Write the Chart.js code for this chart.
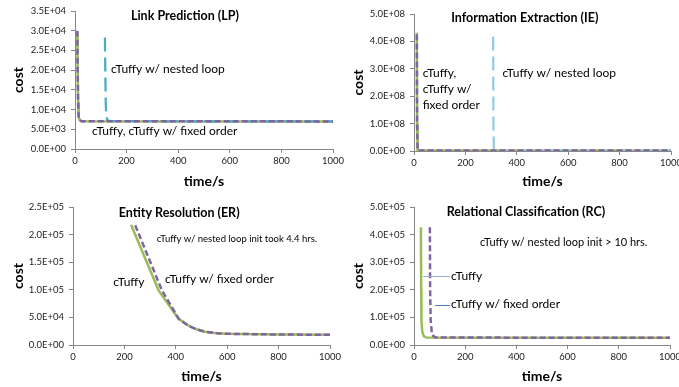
<!DOCTYPE html>
<html>
<head>
<meta charset="utf-8">
<script src="https://cdn.jsdelivr.net/npm/chart.js@4"></script>
<style>
  html, body { margin: 0; padding: 0; background: #fff; overflow: hidden; }
  body { width: 679px; height: 387px; position: relative; }
  canvas { position: absolute; }
</style>
</head>
<body>
<canvas id="lp" width="350" height="192" style="left:0;top:0"></canvas>
<canvas id="ie" width="350" height="192" style="left:340px;top:0"></canvas>
<canvas id="er" width="350" height="192" style="left:0;top:195px"></canvas>
<canvas id="rc" width="350" height="192" style="left:340px;top:195px"></canvas>
<script>
// Link Prediction
const lpTuffyX = [9, 10, 12, 14, 18, 25, 1000];
const lpTuffyY = [29500, 22000, 12000, 8200, 7300, 7050, 7000];
const lpFixedX = [9, 10, 12, 14, 18, 25, 1000];
const lpFixedY = [30000, 22000, 12000, 8200, 7300, 7050, 7000];
const lpNestedX = [116, 117, 119, 121, 125, 135, 1000];
const lpNestedY = [28300, 22000, 12000, 8500, 7400, 7050, 7000];

// Information Extraction
const ieTuffyX = [11, 12, 14, 1000];
const ieTuffyY = [432e6, 100e6, 1.5e6, 1.5e6];
const ieFixedX = [11, 12, 14, 1000];
const ieFixedY = [425e6, 100e6, 1.5e6, 1.5e6];
const ieNestedX = [308, 309, 311, 1000];
const ieNestedY = [418e6, 100e6, 1.5e6, 1.5e6];

// Entity Resolution
const erTuffyX = [226, 333, 410, 450, 480, 514, 560, 600, 800, 1000];
const erTuffyY = [218000, 99000, 48000, 35000, 28500, 24000, 21500, 20300, 19000, 18500];
const erFixedX = [242, 346, 412, 450, 480, 514, 560, 600, 800, 1000];
const erFixedY = [217000, 99000, 47000, 34500, 28500, 24000, 21500, 20300, 19000, 18500];

// Relational Classification
const rcTuffyX = [27, 28, 29, 32, 38, 48, 1000];
const rcTuffyY = [427000, 200000, 90000, 50000, 32000, 27000, 26000];
const rcFixedX = [62, 63, 65, 69, 75, 85, 1000];
const rcFixedY = [427000, 200000, 90000, 50000, 33000, 27000, 26000];

const timeTicks = [0, 200, 400, 600, 800, 1000];

const colors = {
  tuffy: '#9BBB59',
  fixed: '#8064A2',
  nested: '#4BACC6',
  nestedLight: '#93CDDD',
  axis: '#868686',
};

const zip = (xs, ys) => xs.map((x, i) => ({ x: x, y: ys[i] }));

function sci(v) {
  if (v === 0) return '0.0E+00';
  const e = Math.floor(Math.log10(Math.abs(v)) + 1e-9);
  const m = v / Math.pow(10, e);
  return m.toFixed(1) + 'E' + (e < 0 ? '-' : '+') + String(Math.abs(e)).padStart(2, '0');
}

function line(label, xs, ys, color, dash, width) {
  return {
    label: label,
    data: zip(xs, ys),
    borderColor: color,
    borderWidth: width || 2.5,
    borderDash: dash || [],
    pointRadius: 0,
    tension: 0,
    fill: false,
  };
}

// texts and leader lines placed in data coordinates
function notesPlugin(notes) {
  return {
    id: 'notes',
    afterDatasetsDraw(chart) {
      const ctx = chart.ctx;
      const sx = chart.scales.x, sy = chart.scales.y;
      ctx.save();
      notes.forEach(n => {
        if (n.line) {
          ctx.strokeStyle = n.color;
          ctx.lineWidth = 1;
          ctx.beginPath();
          ctx.moveTo(sx.getPixelForValue(n.line[0]), Math.round(sy.getPixelForValue(n.y)) + 0.5);
          ctx.lineTo(sx.getPixelForValue(n.line[1]), Math.round(sy.getPixelForValue(n.y)) + 0.5);
          ctx.stroke();
          return;
        }
        ctx.font = (n.bold ? 'bold ' : '') + n.size + 'px Lato';
        ctx.fillStyle = '#000';
        ctx.textAlign = n.align || 'left';
        ctx.textBaseline = 'middle';
        const lines = [].concat(n.text);
        lines.forEach((t, i) => {
          ctx.fillText(t, sx.getPixelForValue(n.x), sy.getPixelForValue(n.y) + i * 16);
        });
      });
      ctx.restore();
    },
  };
}

function makeChart(id, datasets, yMax, yStep, pad, notes) {
  const fixX = pad.xh, fixY = pad.yw;
  return new Chart(document.getElementById(id), {
    type: 'line',
    data: { datasets: datasets },
    options: {
      responsive: false,
      animation: false,
      layout: { padding: { top: pad.top, right: pad.right, left: 0, bottom: 0 } },
      plugins: { legend: { display: false }, tooltip: { enabled: false } },
      scales: {
        x: {
          type: 'linear',
          min: 0,
          max: 1000,
          afterBuildTicks: s => { s.ticks = timeTicks.map(v => ({ value: v })); },
          afterFit: s => { s.height = fixX; },
          grid: { drawOnChartArea: false, tickLength: 4, color: colors.axis },
          border: { color: colors.axis },
          ticks: {
            color: '#222',
            font: { family: 'Lato', size: 9.5 },
            padding: 2,
            maxRotation: 0,
            callback: v => String(v),
          },
          title: {
            display: true,
            text: 'time/s',
            color: '#000',
            font: { family: 'Lato', size: 14, weight: 'bold' },
            padding: { top: 0, bottom: 2 },
          },
        },
        y: {
          min: 0,
          max: yMax,
          ticks: {
            stepSize: yStep,
            color: '#222',
            font: { family: 'Lato', size: 9.5 },
            padding: 5,
            callback: v => sci(v),
          },
          afterFit: s => { s.width = fixY; },
          grid: { drawOnChartArea: false, tickLength: 4, color: colors.axis },
          border: { color: colors.axis },
          title: {
            display: true,
            text: 'cost',
            color: '#000',
            font: { family: 'Lato', size: 14, weight: 'bold' },
            padding: { top: 10, bottom: 0 },
          },
        },
      },
    },
    plugins: [notesPlugin(notes)],
  });
}

makeChart('lp', [
  line('cTuffy w/ fixed order', lpFixedX, lpFixedY, colors.fixed, [6, 3]),
  line('cTuffy w/ nested loop', lpNestedX, lpNestedY, colors.nested, [14, 6], 2.25),
  line('cTuffy', lpTuffyX, lpTuffyY, colors.tuffy),
], 35000, 5000, { top: 11, right: 17, xh: 43, yw: 75 }, [
  { text: 'Link Prediction (LP)', x: 426, y: 33700, size: 12.5, bold: true, align: 'center' },
  { text: 'cTuffy w/ nested loop', x: 140, y: 20300, size: 12 },
  { text: 'cTuffy, cTuffy w/ fixed order', x: 66, y: 4600, size: 12 },
]);

makeChart('ie', [
  line('cTuffy w/ fixed order', ieFixedX, ieFixedY, colors.fixed, [6, 3]),
  line('cTuffy w/ nested loop', ieNestedX, ieNestedY, colors.nestedLight, [14, 6], 2.25),
  line('cTuffy', ieTuffyX, ieTuffyY, colors.tuffy),
], 5e8, 1e8, { top: 14, right: 19, xh: 41, yw: 74 }, [
  { text: 'Information Extraction (IE)', x: 431, y: 4.84e8, size: 12.5, bold: true, align: 'center' },
  { text: ['cTuffy,', 'cTuffy w/', 'fixed order'], x: 34, y: 2.86e8, size: 12 },
  { text: 'cTuffy w/ nested loop', x: 344, y: 2.86e8, size: 12 },
]);

makeChart('er', [
  line('cTuffy w/ fixed order', erFixedX, erFixedY, colors.fixed, [6, 3]),
  line('cTuffy', erTuffyX, erTuffyY, colors.tuffy),
], 250000, 50000, { top: 12, right: 20, xh: 42, yw: 73 }, [
  { text: 'Entity Resolution (ER)', x: 413, y: 240000, size: 12.5, bold: true, align: 'center' },
  { text: 'cTuffy w/ nested loop init took 4.4 hrs.', x: 326, y: 193000, size: 9.5 },
  { text: 'cTuffy', x: 157, y: 114000, size: 12 },
  { text: 'cTuffy w/ fixed order', x: 358, y: 120000, size: 12 },
]);

makeChart('rc', [
  line('cTuffy w/ fixed order', rcFixedX, rcFixedY, colors.fixed, [6, 3]),
  line('cTuffy', rcTuffyX, rcTuffyY, colors.tuffy),
], 500000, 100000, { top: 12, right: 20, xh: 42, yw: 74 }, [
  { text: 'Relational Classification (RC)', x: 437, y: 481000, size: 12.5, bold: true, align: 'center' },
  { text: 'cTuffy w/ nested loop init > 10 hrs.', x: 258, y: 372000, size: 11 },
  { line: [36, 141], y: 250000, color: '#95B3D7' },
  { line: [82, 141], y: 146000, color: '#4F81BD' },
  { text: 'cTuffy', x: 145, y: 251000, size: 12 },
  { text: 'cTuffy w/ fixed order', x: 145, y: 147000, size: 12 },
]);
</script>
</body>
</html>
